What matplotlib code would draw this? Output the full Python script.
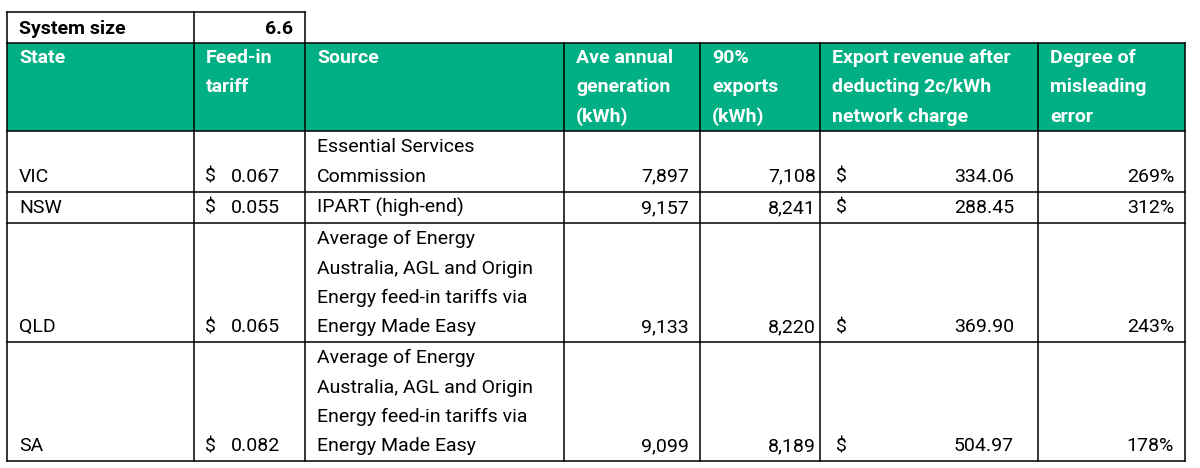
import matplotlib.pyplot as plt

plt.rcParams['font.family'] = ['Roboto', 'DejaVu Sans']

# Data
system_size = 6.6
headers = ['State', 'Feed-in\ntariff', 'Source', 'Ave annual\ngeneration\n(kWh)',
           '90%\nexports\n(kWh)', 'Export revenue after\ndeducting 2c/kWh\nnetwork charge',
           'Degree of\nmisleading\nerror']
states = ['VIC', 'NSW', 'QLD', 'SA']
feed_in = [0.067, 0.055, 0.065, 0.082]
sources = ['Essential Services\nCommission',
           'IPART (high-end)',
           'Average of Energy\nAustralia, AGL and Origin\nEnergy feed-in tariffs via\nEnergy Made Easy',
           'Average of Energy\nAustralia, AGL and Origin\nEnergy feed-in tariffs via\nEnergy Made Easy']
generation = [7897, 9157, 9133, 9099]
exports = [7108, 8241, 8220, 8189]
revenue = [334.06, 288.45, 369.90, 504.97]
error_pct = [269, 312, 243, 178]

# Layout (pixels)
W, H = 1200, 468
col_edges = [7, 194, 305, 564, 700, 820, 1038, 1185]
top_y, head_top, head_bot = 12, 43, 131
line_h = 29.3
green = '#00b084'
fs = 14.0

fig = plt.figure(figsize=(W / 100, H / 100), dpi=100)
ax = fig.add_axes([0, 0, 1, 1])
ax.set_xlim(0, W)
ax.set_ylim(H, 0)
ax.axis('off')

# row edges from number of text lines
row_edges = [head_bot]
for s in sources:
    n = s.count('\n') + 1
    row_edges.append(row_edges[-1] + line_h * n + 2)

lw = 1.1

# system size row
ax.text(col_edges[0] + 12, (top_y + head_top) / 2 + 1, 'System size', fontsize=fs,
        fontweight='bold', va='center', ha='left')
ax.text(col_edges[2] - 12, (top_y + head_top) / 2 + 1, f'{system_size}', fontsize=fs,
        fontweight='bold', va='center', ha='right')
ax.plot([col_edges[0], col_edges[2]], [top_y, top_y], color='black', lw=lw)
for x in col_edges[:3]:
    ax.plot([x, x], [top_y, head_top], color='black', lw=lw)

# header
ax.fill_between([col_edges[0], col_edges[-1]], head_top, head_bot, color=green, lw=0)
for i, h in enumerate(headers):
    for j, line in enumerate(h.split('\n')):
        ax.text(col_edges[i] + 12, head_top + 15 + j * line_h, line, fontsize=fs,
                fontweight='bold', color='white', va='center', ha='left')

# body
for r in range(len(states)):
    y_bot = row_edges[r + 1]
    y_last = y_bot - 15
    ax.text(col_edges[0] + 12, y_last, states[r], fontsize=fs, va='center', ha='left')
    ax.text(col_edges[1] + 11, y_last, '$', fontsize=fs, va='center', ha='left')
    ax.text(col_edges[2] - 25, y_last, f'{feed_in[r]:.3f}', fontsize=fs, va='center', ha='right')
    lines = sources[r].split('\n')
    for j, line in enumerate(lines):
        ax.text(col_edges[2] + 12, y_last - (len(lines) - 1 - j) * line_h, line,
                fontsize=fs, va='center', ha='left')
    ax.text(col_edges[4] - 11, y_last, f'{generation[r]:,}', fontsize=fs, va='center', ha='right')
    ax.text(col_edges[5] - 4, y_last, f'{exports[r]:,}', fontsize=fs, va='center', ha='right')
    ax.text(col_edges[5] + 16, y_last, '$', fontsize=fs, va='center', ha='left')
    ax.text(col_edges[6] - 24, y_last, f'{revenue[r]:.2f}', fontsize=fs, va='center', ha='right')
    ax.text(col_edges[7] - 11, y_last, f'{error_pct[r]}%', fontsize=fs, va='center', ha='right')

# grid lines
for y in [head_top] + row_edges:
    ax.plot([col_edges[0], col_edges[-1]], [y, y], color='black', lw=lw)
for x in col_edges:
    ax.plot([x, x], [head_top, row_edges[-1]], color='black', lw=lw)

fig.savefig('out.png', dpi=100, facecolor='white')
